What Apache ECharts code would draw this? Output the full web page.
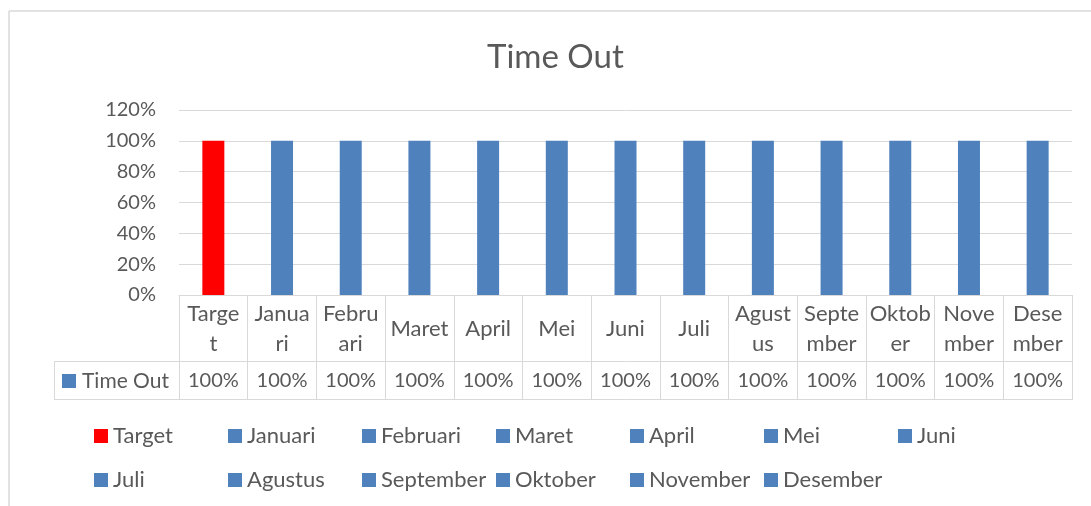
<!DOCTYPE html>
<html>
<head>
<meta charset="utf-8">
<title>Time Out</title>
<script src="https://cdn.jsdelivr.net/npm/echarts@6/dist/echarts.min.js"></script>
<style>
    html, body { margin: 0; padding: 0; background: #fff; }
    #myChart { width: 1091px; height: 506px; }
</style>
</head>
<body>
<div id="myChart"></div>
<script>
// data
var categories = ['Target', 'Januari', 'Februari', 'Maret', 'April', 'Mei', 'Juni',
    'Juli', 'Agustus', 'September', 'Oktober', 'November', 'Desember'];
var tickLabels = ['Targe\nt', 'Janua\nri', 'Febru\nari', 'Maret', 'April', 'Mei', 'Juni',
    'Juli', 'Agust\nus', 'Septe\nmber', 'Oktob\ner', 'Nove\nmber', 'Dese\nmber'];
var values = [1, 1, 1, 1, 1, 1, 1, 1, 1, 1, 1, 1, 1];
var yTicks = [0, 0.2, 0.4, 0.6, 0.8, 1.0, 1.2];

var textColor = '#595959';
var lineColor = '#d9d9d9';
var font = 'Lato';

function pct(v) {
    return Math.round(v * 100) + '%';
}

var myChart = echarts.init(document.getElementById('myChart'));

// one series per category so the legend lists them all
var series = categories.map(function (name, i) {
    return {
        name: name,
        type: 'bar',
        stack: 'all',
        barWidth: 22,
        itemStyle: { color: i === 0 ? '#ff0000' : '#4f81bd' },
        data: values.map(function (v, j) { return j === i ? v : null; })
    };
});

var option = {
    animation: false,
    textStyle: { fontFamily: font },
    title: {
        text: 'Time Out',
        left: 482,
        top: 36,
        textStyle: { fontFamily: font, fontSize: 33, fontWeight: 'normal', color: textColor }
    },
    legend: {
        data: categories,
        left: 94,
        top: 414,
        width: 950,
        padding: 0,
        itemGap: 0,
        itemWidth: 14,
        itemHeight: 14,
        icon: 'rect',
        selectedMode: false,
        textStyle: { fontFamily: font, fontSize: 22, color: textColor, width: 115, lineHeight: 44 }
    },
    grid: {
        left: 179,
        right: 19,
        top: 110,
        bottom: 211
    },
    xAxis: [
        {
            type: 'category',
            data: categories,
            position: 'bottom',
            axisLine: { show: true, lineStyle: { color: lineColor, width: 1 } },
            axisTick: { show: true, interval: 0, length: 105, lineStyle: { color: lineColor, width: 1 } },
            axisLabel: {
                interval: 0,
                margin: 34,
                verticalAlign: 'middle',
                lineHeight: 30,
                fontSize: 22,
                color: textColor,
                fontFamily: font,
                formatter: function (v, idx) { return tickLabels[idx]; }
            }
        },
        {
            type: 'category',
            data: categories,
            position: 'bottom',
            offset: 66,
            axisLine: { show: true, lineStyle: { color: lineColor, width: 1 } },
            axisTick: { show: false },
            axisLabel: {
                interval: 0,
                margin: 20,
                verticalAlign: 'middle',
                fontSize: 20,
                color: textColor,
                fontFamily: font,
                formatter: function (v, idx) { return pct(values[idx]); }
            }
        },
        {
            type: 'category',
            data: categories,
            position: 'bottom',
            offset: 104,
            axisLine: { show: true, lineStyle: { color: lineColor, width: 1 } },
            axisTick: { show: false },
            axisLabel: { show: false }
        }
    ],
    yAxis: {
        type: 'value',
        min: yTicks[0],
        max: yTicks[yTicks.length - 1],
        interval: 0.2,
        axisLine: { show: false },
        axisTick: { show: false },
        splitLine: { lineStyle: { color: lineColor, width: 1 } },
        axisLabel: {
            margin: 23,
            fontSize: 20,
            color: textColor,
            fontFamily: font,
            formatter: function (v) { return pct(v); }
        }
    },
    graphic: [
        // chart border
        { type: 'line', shape: { x1: 9, y1: 11, x2: 1091, y2: 11 }, style: { stroke: lineColor, lineWidth: 1.5 } },
        { type: 'line', shape: { x1: 9, y1: 11, x2: 9, y2: 506 }, style: { stroke: lineColor, lineWidth: 1.5 } },
        // data table row header
        { type: 'line', shape: { x1: 54, y1: 361.5, x2: 179, y2: 361.5 }, style: { stroke: lineColor, lineWidth: 1 } },
        { type: 'line', shape: { x1: 54, y1: 399.5, x2: 179, y2: 399.5 }, style: { stroke: lineColor, lineWidth: 1 } },
        { type: 'line', shape: { x1: 54.5, y1: 361.5, x2: 54.5, y2: 399.5 }, style: { stroke: lineColor, lineWidth: 1 } },
        { type: 'rect', shape: { x: 62, y: 374, width: 14, height: 14 }, style: { fill: '#4f81bd' } },
        {
            type: 'text', x: 82, y: 381,
            style: { text: 'Time Out', fontFamily: font, fontSize: 21, fill: textColor, verticalAlign: 'middle' }
        }
    ],
    series: series
};
myChart.setOption(option);
</script>
</body>
</html>
